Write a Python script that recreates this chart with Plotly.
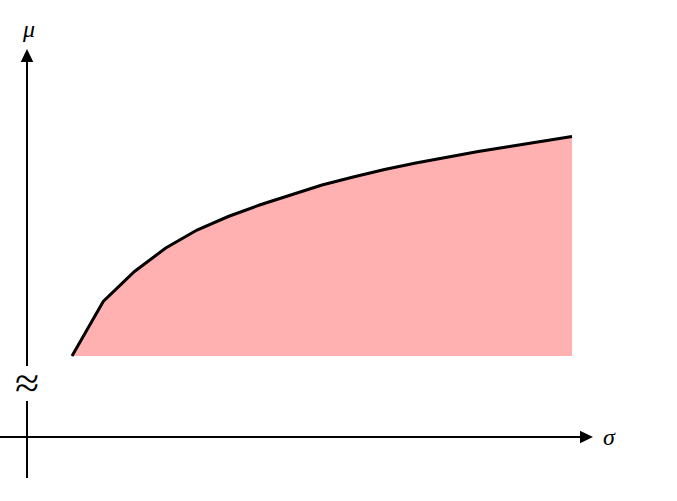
import plotly.graph_objects as go

# Data (sigma, mu)
sigma = [1, 2, 3, 4, 5, 6, 7, 8, 9, 10, 11, 12, 13, 14, 15, 16, 17]
mu = [0.0, 0.545, 0.845, 1.08, 1.26, 1.395, 1.51, 1.61, 1.71, 1.79, 1.865,
      1.93, 1.99, 2.045, 2.095, 2.145, 2.195]

W, H = 677, 501

fig = go.Figure()
fig.add_trace(go.Scatter(
    x=sigma, y=mu, mode="lines", fill="tozeroy",
    fillcolor="#ffb0b0", line=dict(color="black", width=3),
    hoverinfo="skip", showlegend=False))

def px(p):
    return p / W

def py(q):
    return 1 - q / H

shapes = []
line = dict(color="black", width=2)
# x axis
shapes.append(dict(type="line", xref="paper", yref="paper",
                   x0=px(0), x1=px(581), y0=py(437), y1=py(437), line=line))
# y axis (with break)
shapes.append(dict(type="line", xref="paper", yref="paper",
                   x0=px(27), x1=px(27), y0=py(478), y1=py(401), line=line))
shapes.append(dict(type="line", xref="paper", yref="paper",
                   x0=px(27), x1=px(27), y0=py(366), y1=py(61), line=line))
# arrow heads
shapes.append(dict(type="path", xref="paper", yref="paper",
                   path=f"M {px(580)} {py(430.7)} L {px(593)} {py(437)} L {px(580)} {py(443.3)} Z",
                   fillcolor="black", line=dict(color="black", width=0)))
shapes.append(dict(type="path", xref="paper", yref="paper",
                   path=f"M {px(20.7)} {py(62)} L {px(27)} {py(49)} L {px(33.3)} {py(62)} Z",
                   fillcolor="black", line=dict(color="black", width=0)))

annotations = [
    dict(text="<i>μ</i>", xref="paper", yref="paper", x=px(28), y=py(29),
         showarrow=False, font=dict(family="Liberation Serif", size=24, color="black"),
         xanchor="center", yanchor="middle"),
    dict(text="<i>σ</i>", xref="paper", yref="paper", x=px(609), y=py(437),
         showarrow=False, font=dict(family="Liberation Serif", size=24, color="black"),
         xanchor="center", yanchor="middle"),
    dict(text="≈", xref="paper", yref="paper", x=px(27), y=py(383),
         showarrow=False, font=dict(family="Liberation Serif", size=44, color="black"),
         xanchor="center", yanchor="middle"),
]

# axis ranges so that sigma step = 31.25 px, first point at x=72; mu unit = 100 px, mu=0 at y=356
x0 = 1 - 72 / 31.25
x1 = 1 + (W - 72) / 31.25
y0 = (356 - H) / 100
y1 = 356 / 100

fig.update_layout(
    width=W, height=H,
    margin=dict(l=0, r=0, t=0, b=0),
    paper_bgcolor="white", plot_bgcolor="white",
    xaxis=dict(range=[x0, x1], visible=False, fixedrange=True),
    yaxis=dict(range=[y0, y1], visible=False, fixedrange=True),
    shapes=shapes, annotations=annotations,
)

fig.write_html("out.html", config={"displayModeBar": False},
               post_script="document.body.style.margin='0';document.body.style.padding='0';")
